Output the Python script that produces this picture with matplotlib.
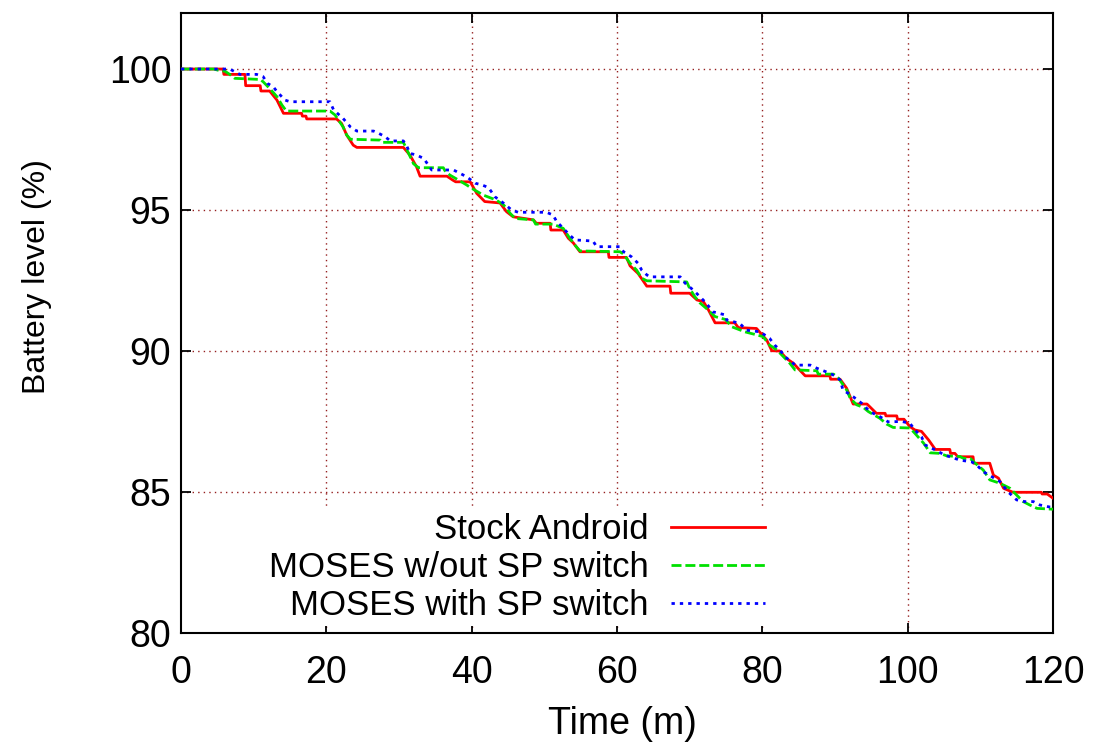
import numpy as np
import matplotlib
matplotlib.use("Agg")
import matplotlib.pyplot as plt

plt.rcParams['font.family'] = ['Liberation Sans', 'DejaVu Sans']

# (time in minutes, battery level in %)
stock = [(0, 100), (5.8, 100), (5.9, 99.81), (8.8, 99.81), (8.9, 99.41), (10.9, 99.41),
         (11.0, 99.22), (12.2, 99.22), (13.2, 98.9), (14.1, 98.43), (16.6, 98.43),
         (16.7, 98.33), (17.2, 98.33), (17.3, 98.23), (21.4, 98.23), (22.1, 98.07),
         (22.8, 97.66), (23.7, 97.3), (24.2, 97.22), (30.6, 97.22), (31.5, 96.95),
         (32.4, 96.54), (32.9, 96.2), (36.6, 96.2), (37.4, 96.06), (37.8, 96.0),
         (39.8, 96.0), (40.7, 95.59), (41.8, 95.3), (43.9, 95.25), (44.8, 94.94),
         (45.7, 94.76), (48.5, 94.65), (48.9, 94.53), (50.8, 94.53), (50.9, 94.29),
         (52.6, 94.29), (53.3, 94.0), (54.0, 93.83), (54.9, 93.52), (58.8, 93.52),
         (58.9, 93.32), (61.3, 93.32), (61.8, 93.02), (62.9, 92.75), (64.1, 92.3),
         (67.3, 92.3), (67.4, 92.05), (70.0, 92.05), (71.0, 91.81), (71.9, 91.75),
         (72.6, 91.45), (73.5, 91.0), (76.2, 91.0), (76.7, 90.83), (79.2, 90.8),
         (80.6, 90.39), (81.3, 90.01), (82.4, 90.0), (83.3, 89.74), (84.3, 89.56),
         (84.9, 89.39), (85.9, 89.12), (89.3, 89.12), (89.4, 89.0), (90.7, 89.0),
         (91.6, 88.68), (92.5, 88.12), (94.4, 88.12), (94.8, 88.02), (95.7, 87.79),
         (96.9, 87.79), (97.0, 87.7), (98.5, 87.7), (98.6, 87.58), (99.5, 87.58),
         (100.3, 87.32), (101.0, 87.2), (101.9, 87.15), (102.9, 86.84), (103.8, 86.51),
         (105.8, 86.51), (105.9, 86.37), (106.5, 86.37), (106.9, 86.25), (109.0, 86.25),
         (109.1, 86.02), (111.3, 86.02), (111.8, 85.6), (112.5, 85.49), (113.2, 85.13),
         (114.5, 84.99), (118.4, 84.99), (118.5, 84.93), (119.2, 84.93), (120, 84.78)]

no_switch = [(0, 100), (4.5, 100), (5.5, 99.93), (6.0, 99.93), (6.7, 99.81), (7.4, 99.67),
             (10.9, 99.63), (11.3, 99.55), (12.2, 99.31), (13.2, 99.02), (13.9, 98.72),
             (14.5, 98.51), (20.5, 98.51), (21.2, 98.37), (22.3, 97.95), (22.8, 97.66),
             (23.3, 97.51), (27.4, 97.48), (27.6, 97.4), (30.6, 97.4), (31.1, 97.13),
             (32.0, 96.64), (32.7, 96.5), (36.1, 96.5), (36.3, 96.4), (37.0, 96.24),
             (38.2, 96.06), (39.3, 95.89), (40.0, 95.77), (41.6, 95.53), (43.4, 95.35),
             (44.4, 95.18), (45.3, 94.88), (46.0, 94.7), (48.5, 94.65), (48.8, 94.5),
             (51.2, 94.5), (52.6, 94.35), (53.5, 94.0), (54.2, 93.76), (54.9, 93.55),
             (60.4, 93.52), (60.9, 93.44), (61.8, 93.11), (62.7, 92.87), (63.4, 92.58),
             (64.1, 92.49), (69.6, 92.45), (70.0, 92.22), (70.7, 91.93), (71.4, 91.71),
             (72.3, 91.51), (73.5, 91.22), (74.9, 91.12), (75.8, 90.86), (77.6, 90.68),
             (78.8, 90.6), (80.1, 90.51), (81.0, 90.21), (82.0, 90.04), (82.9, 89.8),
             (83.8, 89.56), (84.5, 89.33), (87.5, 89.3), (87.7, 89.18), (89.8, 89.18),
             (90.5, 89.03), (91.6, 88.62), (92.1, 88.32), (93.0, 88.09), (93.9, 88.0),
             (94.6, 87.85), (96.2, 87.61), (97.1, 87.41), (98.0, 87.29), (100.3, 87.27),
             (101.0, 87.08), (102.2, 86.73), (103.1, 86.39), (104.4, 86.37), (105.4, 86.28),
             (107.2, 86.26), (107.7, 86.19), (108.6, 86.19), (109.3, 86.02), (110.4, 85.78),
             (111.3, 85.43), (112.7, 85.31), (114.1, 85.13), (115.0, 84.89), (115.9, 84.66),
             (116.8, 84.54), (117.8, 84.42), (120, 84.39)]

with_switch = [(0, 100), (6.7, 100), (8.1, 99.81), (10.4, 99.81), (11.3, 99.73), (11.9, 99.49),
               (12.7, 99.37), (13.2, 99.2), (14.3, 98.9), (15.0, 98.84), (20.5, 98.84),
               (21.0, 98.55), (22.3, 98.25), (23.3, 97.95), (24.2, 97.8), (26.5, 97.8),
               (27.2, 97.72), (28.1, 97.6), (28.8, 97.45), (30.6, 97.45), (31.1, 97.25),
               (31.5, 97.01), (32.4, 96.95), (33.4, 96.83), (34.5, 96.42), (37.5, 96.42),
               (38.4, 96.3), (39.3, 96.18), (40.5, 95.95), (41.4, 95.89), (42.3, 95.8),
               (43.2, 95.47), (44.4, 95.24), (45.5, 95.0), (46.4, 94.92), (50.3, 94.92),
               (51.2, 94.82), (51.7, 94.59), (52.6, 94.35), (53.5, 94.11), (54.2, 93.94),
               (56.7, 93.9), (57.2, 93.7), (60.4, 93.7), (60.9, 93.52), (62.0, 93.34),
               (62.9, 93.11), (63.4, 92.87), (64.1, 92.7), (64.5, 92.63), (68.7, 92.63),
               (69.4, 92.4), (70.5, 92.16), (71.4, 91.93), (72.3, 91.69), (73.2, 91.39),
               (74.9, 91.28), (75.1, 91.1), (76.9, 90.98), (77.8, 90.74), (79.7, 90.68),
               (81.0, 90.45), (81.7, 90.21), (82.4, 90.04), (83.1, 89.8), (84.0, 89.62),
               (84.5, 89.5), (86.6, 89.5), (87.5, 89.39), (89.3, 89.21), (90.2, 89.09),
               (90.7, 88.97), (91.1, 88.62), (92.5, 88.38), (93.7, 88.14), (94.8, 87.85),
               (96.2, 87.67), (97.3, 87.49), (99.2, 87.5), (100.3, 87.44), (101.0, 87.2),
               (101.9, 86.96), (102.4, 86.67), (103.8, 86.49), (105.1, 86.31), (107.2, 86.13),
               (108.8, 86.07), (109.5, 85.96), (110.4, 85.72), (111.6, 85.54), (112.7, 85.37),
               (113.8, 85.01), (115.0, 84.72), (116.1, 84.66), (117.3, 84.66), (118.2, 84.54),
               (119.3, 84.48), (120, 84.45)]

labels = ["Stock Android", "MOSES w/out SP switch", "MOSES with SP switch"]
xticks = [0, 20, 40, 60, 80, 100, 120]
yticks = [80, 85, 90, 95, 100]

fig = plt.figure(figsize=(10.93, 7.47), dpi=100)
ax = fig.add_axes([0.1656, 0.1526, 0.7978, 0.8305])

lw = 2.0
s = np.array(stock)
ax.plot(s[:, 0], s[:, 1], color='#ff0000', lw=lw, label=labels[0], zorder=3)
g = np.array(no_switch)
ax.plot(g[:, 0], g[:, 1], color='#00e000', lw=lw, dashes=(3.6, 1.4), label=labels[1], zorder=3)
b = np.array(with_switch)
ax.plot(b[:, 0], b[:, 1], color='#0000ff', lw=lw, dashes=(1.2, 1.8), label=labels[2], zorder=3)

ax.set_xlim(0, 120)
ax.set_ylim(80, 102)
ax.set_xticks(xticks)
ax.set_yticks(yticks)
ax.tick_params(direction='in', length=7, width=1.3, top=True, right=True,
               labelsize=27, color='black')
ax.tick_params(axis='x', pad=16)
ax.tick_params(axis='y', pad=7)
for sp in ax.spines.values():
    sp.set_linewidth(1.5)

# dotted grid, skipping the lines that sit on the frame
for x in xticks[1:-1]:
    ax.axvline(x, color='#951f1f', lw=1.0, ls=(0, (1, 3)), zorder=1)
for y in yticks[1:]:
    ax.axhline(y, color='#951f1f', lw=1.0, ls=(0, (1, 3)), zorder=1)

ax.set_xlabel("Time (m)", fontsize=27)
ax.set_ylabel("Battery level (%)", fontsize=23)
ax.xaxis.set_label_coords(0.506, -0.118)
ax.yaxis.set_label_coords(-0.148, 0.574)

leg = ax.legend(loc='center', bbox_to_anchor=(0.385, 0.1056), markerfirst=False,
                fontsize=25, handlelength=2.7, handletextpad=0.65, labelspacing=0.15,
                borderpad=0.1, frameon=True, fancybox=False)
leg.get_frame().set_facecolor('white')
leg.get_frame().set_edgecolor('none')
leg.get_frame().set_alpha(1)

fig.savefig("out.png", dpi=100)
